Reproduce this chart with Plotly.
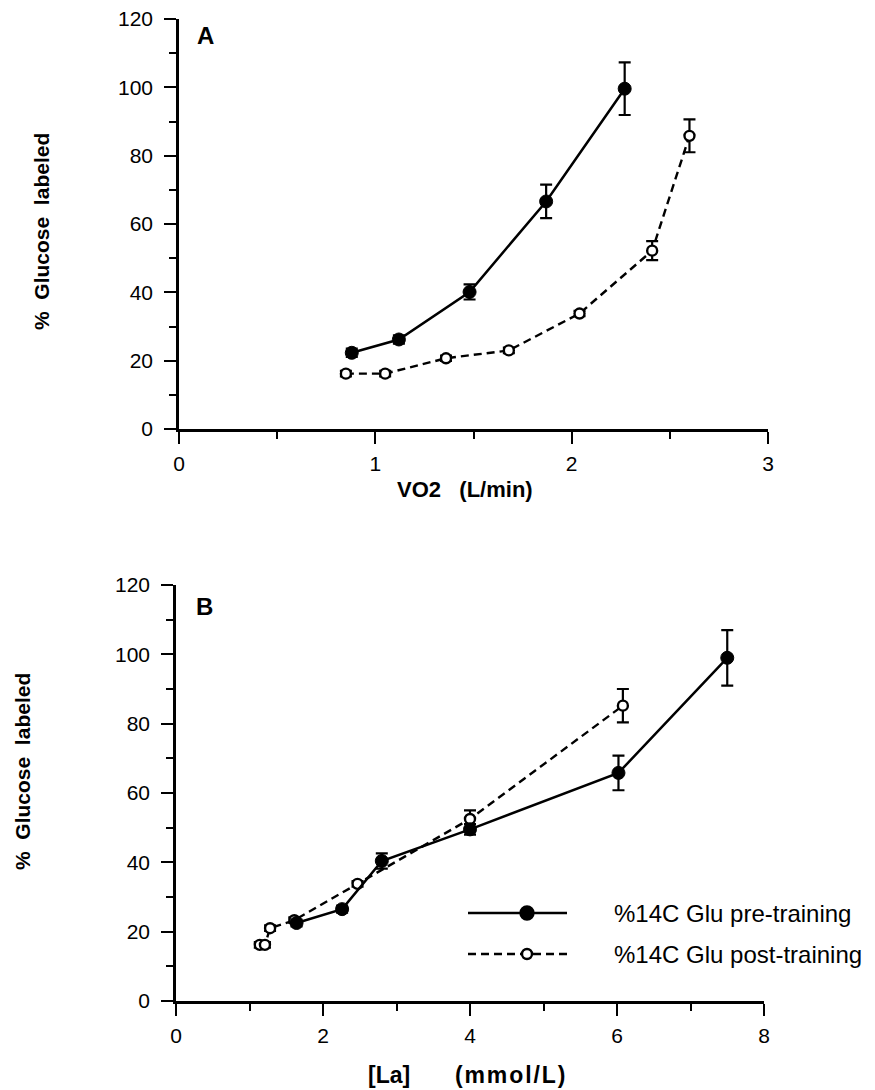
import plotly.graph_objects as go

# ---------------- data ----------------
a_pre_x = [0.88, 1.12, 1.48, 1.87, 2.27]
a_pre_y = [22.3, 26.2, 40.1, 66.6, 99.6]
a_pre_err = [1.2, 1.2, 2.2, 4.9, 7.7]

a_post_x = [0.85, 1.05, 1.36, 1.68, 2.04, 2.41, 2.60]
a_post_y = [16.2, 16.2, 20.7, 23.0, 33.8, 52.2, 85.8]
a_post_err = [0.8, 0.8, 0.8, 0.8, 0.8, 2.8, 4.8]

b_pre_x = [1.64, 2.26, 2.80, 4.00, 6.02, 7.50]
b_pre_y = [22.5, 26.5, 40.4, 49.5, 65.8, 99.0]
b_pre_err = [1.0, 1.0, 2.2, 1.5, 5.0, 8.0]

b_post_x = [1.14, 1.21, 1.28, 1.61, 2.47, 4.00, 6.08]
b_post_y = [16.2, 16.2, 21.0, 23.3, 33.8, 52.5, 85.2]
b_post_err = [0.8, 0.8, 0.8, 0.8, 0.8, 2.5, 4.8]

series_names = ["%14C Glu pre-training", "%14C Glu post-training"]
y_ticks = [0, 20, 40, 60, 80, 100, 120]
a_x_ticks = [0, 1, 2, 3]
b_x_ticks = [0, 2, 4, 6, 8]

W, H = 875, 1090
FONT = "Liberation Sans, Arial, Helvetica, sans-serif"
DASH = "8px,5px"


def px(x):
    return x / W


def py(y):
    return 1 - y / H


def err(vals):
    return dict(type="data", array=vals, visible=True, color="black",
                thickness=2.2, width=6)


fig = go.Figure()

for xa, ya, px_, py_, pe, qx, qy, qe in [
    ("x", "y", a_pre_x, a_pre_y, a_pre_err, a_post_x, a_post_y, a_post_err),
    ("x2", "y2", b_pre_x, b_pre_y, b_pre_err, b_post_x, b_post_y, b_post_err),
]:
    fig.add_trace(go.Scatter(
        x=qx, y=qy, error_y=err(qe), mode="lines+markers", xaxis=xa, yaxis=ya,
        name=series_names[1], showlegend=False,
        line=dict(color="black", width=2.4, dash=DASH),
        marker=dict(symbol="circle", size=10, color="white",
                    line=dict(color="black", width=2.4)),
    ))
    fig.add_trace(go.Scatter(
        x=px_, y=py_, error_y=err(pe), mode="lines+markers", xaxis=xa, yaxis=ya,
        name=series_names[0], showlegend=False,
        line=dict(color="black", width=2.5),
        marker=dict(symbol="circle", size=13, color="black",
                    line=dict(color="black", width=1)),
    ))

axis_common = dict(
    showline=True, linecolor="black", linewidth=2.5,
    ticks="outside", ticklen=12, tickwidth=2, tickcolor="black",
    showgrid=False, zeroline=False, automargin=False,
    tickfont=dict(family=FONT, size=21, color="black"),
)
minor_common = dict(ticks="outside", ticklen=7, tickwidth=2, tickcolor="black")

fig.update_layout(
    width=W, height=H,
    margin=dict(l=0, r=0, t=0, b=0, autoexpand=False),
    paper_bgcolor="white", plot_bgcolor="white",
    showlegend=False,
    xaxis=dict(axis_common, domain=[px(179), px(768)], range=[0, 3],
               tickvals=a_x_ticks, anchor="y", ticklabelstandoff=2,
               minor=dict(minor_common, dtick=0.5)),
    yaxis=dict(axis_common, domain=[py(429), py(19)], range=[0, 120],
               tickvals=y_ticks, anchor="x", ticklabelstandoff=7,
               minor=dict(minor_common, dtick=10)),
    xaxis2=dict(axis_common, domain=[px(176), px(764)], range=[0, 8],
                tickvals=b_x_ticks, anchor="y2", ticklabelstandoff=2,
                minor=dict(minor_common, dtick=1)),
    yaxis2=dict(axis_common, domain=[py(1001), py(585)], range=[0, 120],
                tickvals=y_ticks, anchor="x2", ticklabelstandoff=7,
                minor=dict(minor_common, dtick=10)),
)

NB = "\u00a0"
HS = "\u200a"
ann = []


def note(text, x, y, size, angle=0, xanchor="center"):
    ann.append(dict(text=text, x=px(x), y=py(y), xref="paper", yref="paper",
                    xanchor=xanchor, yanchor="middle", showarrow=False,
                    textangle=angle,
                    font=dict(family=FONT, size=size, color="black")))


note("<b>A</b>", 205, 35, 24)
note("<b>B</b>", 204, 607, 24)
note(f"<b>VO2{NB*3}(L/min)</b>", 465, 489, 22)
mmol = HS.join("(mmol/L)")
note(f"<b>[La]{NB*7}{mmol}</b>", 466, 1075, 23)
ylab = f"<b>%{NB*2}Glucose{NB*2}labeled</b>"
note(ylab, 41, 232, 21, angle=-90)
note(ylab, 22, 772, 21, angle=-90)

# legend (drawn manually)
leg_rows = [(913, "solid", "black", 13, series_names[0]),
            (954, "dash", "white", 10, series_names[1])]
shapes = []
for yy, dash, fill, msz, name in leg_rows:
    shapes.append(dict(type="line", xref="paper", yref="paper",
                       x0=px(468), x1=px(567), y0=py(yy), y1=py(yy),
                       line=dict(color="black", width=2.5 if dash == "solid" else 2.4,
                                 dash="solid" if dash == "solid" else DASH)))
    shapes.append(dict(type="circle", xref="paper", yref="paper",
                       xsizemode="pixel", ysizemode="pixel",
                       xanchor=px(527), yanchor=py(yy),
                       x0=-msz / 2, x1=msz / 2, y0=-msz / 2, y1=msz / 2,
                       fillcolor=fill, line=dict(color="black", width=2.4)))
    note(name, 612, yy, 24, xanchor="left")

fig.update_layout(annotations=ann, shapes=shapes)
fig.write_html("out.html")
